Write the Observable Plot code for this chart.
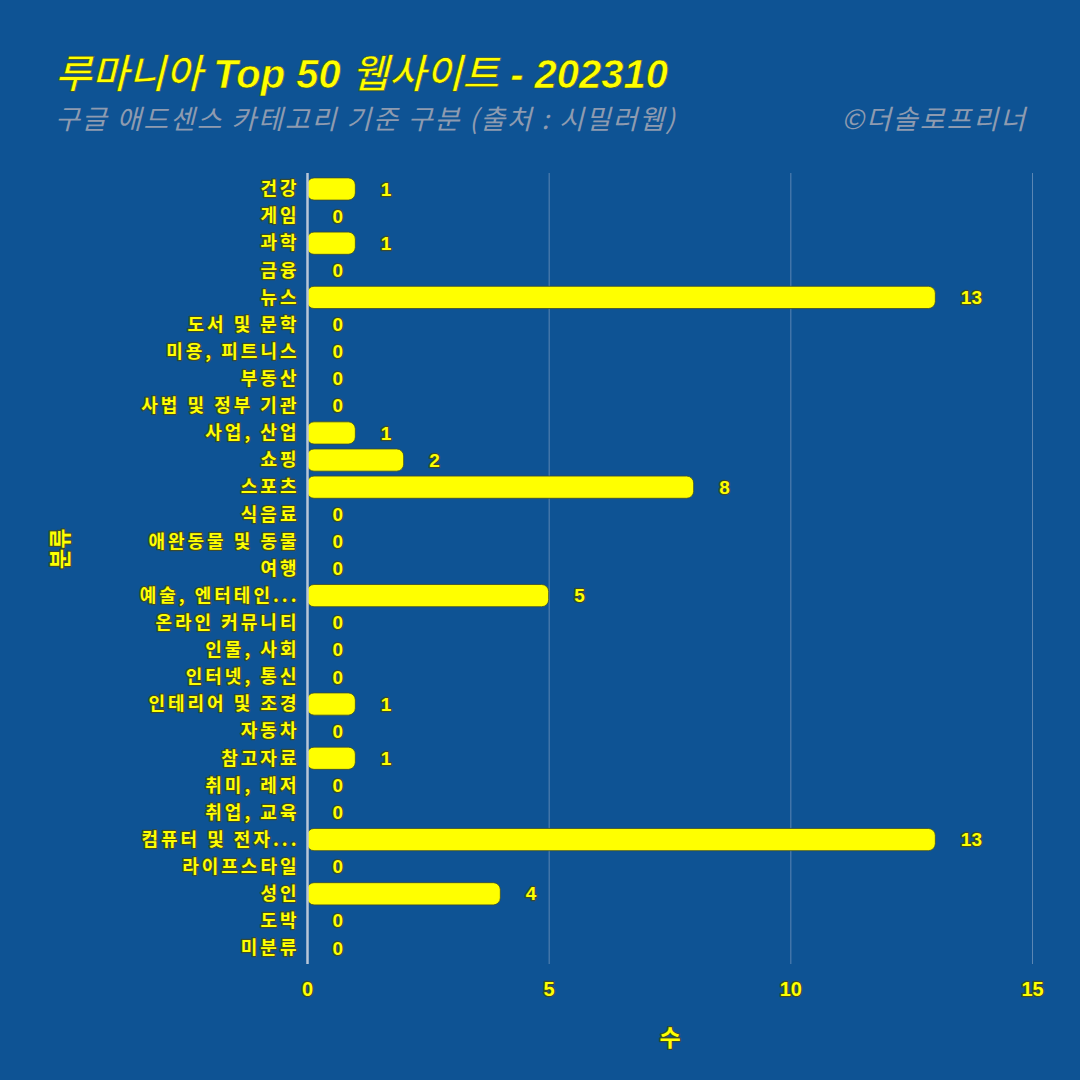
<!DOCTYPE html>
<html><head><meta charset="utf-8">
<script src="https://cdn.jsdelivr.net/npm/d3@7"></script>
<script src="https://cdn.jsdelivr.net/npm/@observablehq/plot@0.6"></script>
<style>
html,body{margin:0;padding:0;background:#0e5394;}
#wrap{position:relative;width:1080px;height:1080px;background:#0e5394;overflow:hidden;font-family:"Noto Sans CJK KR","Noto Sans",sans-serif;}
.t{position:absolute;white-space:nowrap;line-height:1;}
#title{left:55px;top:51px;font-size:40px;font-style:italic;color:#ffff00;font-family:"Liberation Sans","Noto Sans CJK KR",sans-serif;-webkit-text-stroke:0.6px #3a4a30;}
#title .b{font-weight:bold;}
#title .k{font-family:"Noto Sans CJK KR",sans-serif;font-weight:500;}
#sub{left:55px;top:104px;font-size:27px;font-style:italic;color:#8e9bb0;letter-spacing:1.9px;}
#copy{right:53px;top:104px;font-size:27px;font-style:italic;color:#8e9bb0;letter-spacing:2px;}
#plot{position:absolute;left:0;top:0;}
#plot svg text{paint-order:stroke !important;stroke:#3a4a30 !important;stroke-width:2.5px !important;stroke-linejoin:round !important;}
#plot svg g[aria-label="y-axis tick label"] text{letter-spacing:3px;}
</style></head>
<body><div id="wrap">
<div class="t" id="title"><span class="k">루마니아</span><span class="b"> Top 50 </span><span class="k">웹사이트</span><span class="b"> - 202310</span></div>
<div class="t" id="sub">구글 애드센스 카테고리 기준 구분 (출처 : 시밀러웹)</div>
<div class="t" id="copy">©더솔로프리너</div>
<div id="plot"></div>
</div>
<script>
const categories = ["건강","게임","과학","금융","뉴스","도서 및 문학","미용, 피트니스","부동산","사법 및 정부 기관","사업, 산업","쇼핑","스포츠","식음료","애완동물 및 동물","여행","예술, 엔터테인...","온라인 커뮤니티","인물, 사회","인터넷, 통신","인테리어 및 조경","자동차","참고자료","취미, 레저","취업, 교육","컴퓨터 및 전자...","라이프스타일","성인","도박","미분류"];
const counts = [1,0,1,0,13,0,0,0,0,1,2,8,0,0,0,5,0,0,0,1,0,1,0,0,13,0,4,0,0];
const xTicks = [0,5,10,15];
const data = categories.map((c,i)=>({category:c,count:counts[i]}));
const yellow = "#ffff00";
const chart = Plot.plot({
  width:1080, height:1080,
  marginLeft:307, marginRight:48, marginTop:173, marginBottom:116,
  style:{background:"transparent", fontFamily:"'Noto Sans CJK KR', sans-serif"},
  x:{domain:[0,15], ticks:xTicks, label:null},
  y:{domain:categories, padding:0.18, round:false, label:null},
  marks:[
    Plot.gridX(xTicks.slice(1), {stroke:"#8fa8c8", strokeOpacity:0.6, strokeWidth:1}),
    Plot.barX(data, {x:"count", y:"category", fill:yellow, stroke:"#3a4a30", strokeWidth:0.8, rx:7}),
    Plot.ruleX([0], {stroke:"#b8c6d8", strokeWidth:2.5}),
    Plot.text(data, {x:"count", y:"category", text:d=>String(d.count), dx:25, textAnchor:"start", fill:yellow, fontSize:19, fontWeight:"bold", fontFamily:"Liberation Sans, sans-serif"}),
    Plot.axisY({tickSize:0, tickPadding:8, fill:yellow, fontSize:18, fontWeight:"bold", label:null}),
    Plot.axisX({ticks:xTicks, tickSize:0, tickPadding:17, fill:yellow, fontSize:20, fontWeight:"bold", label:null, fontFamily:"Liberation Sans, sans-serif"}),
    Plot.text(["수"], {frameAnchor:"bottom", dy:81, fill:yellow, fontSize:23, fontWeight:"bold"}),
    Plot.text(["분류"], {frameAnchor:"left", dx:-247, rotate:-90, fill:yellow, fontSize:22, fontWeight:"bold"})
  ]
});
document.getElementById("plot").appendChild(chart);
</script>
</body></html>
